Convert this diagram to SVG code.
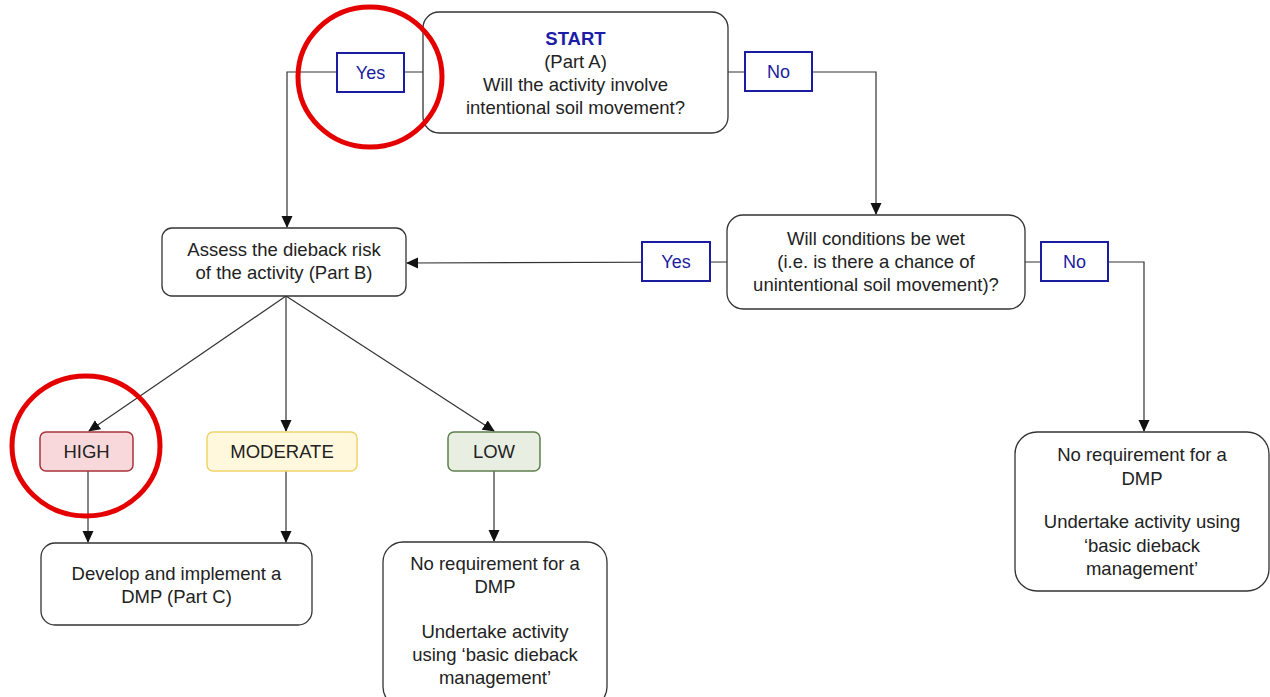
<svg xmlns="http://www.w3.org/2000/svg" width="1270" height="697" viewBox="0 0 1270 697">
<defs>
<marker id="arr" markerWidth="12" markerHeight="12" refX="11" refY="6" orient="auto" markerUnits="userSpaceOnUse">
<path d="M0,0.5 L12,6 L0,11.5 Z" fill="#111"/>
</marker>
<style>
.box{fill:#fff;stroke:#333;stroke-width:1.3}
.t{font-family:"Liberation Sans",Arial,sans-serif;font-size:18.5px;fill:#222;text-anchor:middle}
.lbl{fill:#fff;stroke:#1c1ca0;stroke-width:2}
.lt{font-family:"Liberation Sans",Arial,sans-serif;font-size:18px;fill:#1c1ca0;text-anchor:middle}
.c{fill:none;stroke:#333;stroke-width:1.2}
.ring{fill:none;stroke:#e50000;stroke-width:5}
</style>
</defs>
<rect width="1270" height="697" fill="#fff"/>
<g id="connectors">
<polyline class="c" points="423,72 287,72 287,227" marker-end="url(#arr)"/>
<polyline class="c" points="728,72 876,72 876,214" marker-end="url(#arr)"/>
<line class="c" x1="727" y1="262" x2="407" y2="263" marker-end="url(#arr)"/>
<polyline class="c" points="1025,262 1144,262 1144,431" marker-end="url(#arr)"/>
<line class="c" x1="286" y1="296" x2="89" y2="431" marker-end="url(#arr)"/>
<line class="c" x1="286" y1="296" x2="286" y2="431" marker-end="url(#arr)"/>
<line class="c" x1="286" y1="296" x2="494" y2="431" marker-end="url(#arr)"/>
<line class="c" x1="88" y1="471" x2="88" y2="542" marker-end="url(#arr)"/>
<line class="c" x1="286" y1="471" x2="286" y2="542" marker-end="url(#arr)"/>
<line class="c" x1="494" y1="471" x2="494" y2="541" marker-end="url(#arr)"/>
</g>
<g id="label-yes-a"><rect class="lbl" x="337" y="53" width="67" height="39"/><text class="lt" x="370.5" y="79">Yes</text></g>
<g id="label-no-a"><rect class="lbl" x="745" y="52" width="67" height="39"/><text class="lt" x="778.5" y="78">No</text></g>
<g id="label-yes-b"><rect class="lbl" x="642" y="242" width="68" height="39"/><text class="lt" x="676" y="268">Yes</text></g>
<g id="label-no-b"><rect class="lbl" x="1041" y="242" width="67" height="39"/><text class="lt" x="1074.5" y="268">No</text></g>
<g id="start"><rect class="box" x="423" y="12" width="305" height="121" rx="16"/>
<text class="t" x="575.5" y="45" style="font-weight:bold;fill:#1c1ca8">START</text>
<text class="t" x="575.5" y="68">(Part A)</text>
<text class="t" x="575.5" y="91">Will the activity involve</text>
<text class="t" x="575.5" y="114">intentional soil movement?</text></g>
<g id="wet"><rect class="box" x="727" y="215" width="298" height="94" rx="16"/>
<text class="t" x="876" y="245">Will conditions be wet</text>
<text class="t" x="876" y="268">(i.e. is there a chance of</text>
<text class="t" x="876" y="291">unintentional soil movement)?</text></g>
<g id="assess"><rect class="box" x="162" y="228" width="244" height="68" rx="10"/>
<text class="t" x="284" y="256">Assess the dieback risk</text>
<text class="t" x="284" y="279">of the activity (Part B)</text></g>
<g id="high"><rect x="40" y="432" width="93" height="39" rx="6" fill="#f8d8da" stroke="#a8323a" stroke-width="1.5"/><text class="t" x="86.5" y="458">HIGH</text></g>
<g id="moderate"><rect x="207" y="432" width="150" height="39" rx="6" fill="#fff8dc" stroke="#f0d46a" stroke-width="1.5"/><text class="t" x="282" y="458">MODERATE</text></g>
<g id="low"><rect x="448" y="432" width="92" height="39" rx="6" fill="#e8efe2" stroke="#5e7f4e" stroke-width="1.5"/><text class="t" x="494" y="458">LOW</text></g>
<g id="develop"><rect class="box" x="41" y="543" width="271" height="82" rx="14"/>
<text class="t" x="176.5" y="580">Develop and implement a</text>
<text class="t" x="176.5" y="603">DMP (Part C)</text></g>
<g id="low-result"><rect class="box" x="383" y="542" width="224" height="165" rx="20"/>
<text class="t" x="495" y="570">No requirement for a</text>
<text class="t" x="495" y="593">DMP</text>
<text class="t" x="495" y="638">Undertake activity</text>
<text class="t" x="495" y="661">using ‘basic dieback</text>
<text class="t" x="495" y="684">management’</text></g>
<g id="no-result"><rect class="box" x="1015" y="432" width="254" height="159" rx="22"/>
<text class="t" x="1142" y="461">No requirement for a</text>
<text class="t" x="1142" y="485">DMP</text>
<text class="t" x="1142" y="528">Undertake activity using</text>
<text class="t" x="1142" y="552">‘basic dieback</text>
<text class="t" x="1142" y="575">management’</text></g>
<g id="highlights">
<ellipse class="ring" cx="370" cy="77" rx="72" ry="70"/>
<ellipse class="ring" cx="86" cy="446" rx="74" ry="70"/>
</g>
</svg>
